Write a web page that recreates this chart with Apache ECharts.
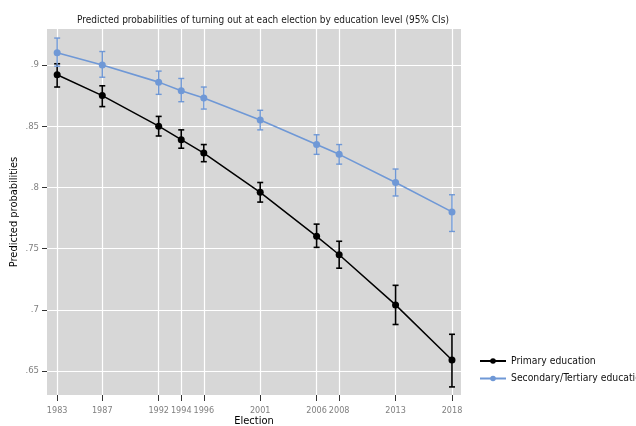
<!DOCTYPE html>
<html><head><meta charset="utf-8">
<script src="https://cdn.jsdelivr.net/npm/echarts@6/dist/echarts.min.js"></script>
<style>html,body{margin:0;padding:0;background:#fff}#c{width:636px;height:426px}</style>
</head><body><div id="c"></div>
<script>
const years = [1983,1987,1992,1994,1996,2001,2006,2008,2013,2018];
const yTicks = [0.65,0.70,0.75,0.80,0.85,0.90];
const yTickLabels = ['.65','.7','.75','.8','.85','.9'];
const primary   = [0.892,0.875,0.850,0.839,0.828,0.796,0.760,0.745,0.704,0.659];
const primaryLo = [0.882,0.866,0.842,0.832,0.821,0.788,0.751,0.734,0.688,0.637];
const primaryHi = [0.901,0.883,0.858,0.847,0.835,0.804,0.770,0.756,0.720,0.680];
const secondary   = [0.910,0.900,0.886,0.879,0.873,0.855,0.835,0.827,0.804,0.780];
const secondaryLo = [0.899,0.890,0.876,0.870,0.864,0.847,0.827,0.819,0.793,0.764];
const secondaryHi = [0.922,0.911,0.895,0.889,0.882,0.863,0.843,0.835,0.815,0.794];
const names = ['Primary education','Secondary/Tertiary education'];

const FONT = '"DejaVu Sans Condensed","Liberation Sans",sans-serif';
const BLACK = '#000000', BLUE = '#6f98d6';

function errSeries(lo, hi, color, width){
  return {
    type:'custom', silent:true, z:3,
    data: years.map((y,i)=>[y, lo[i], hi[i]]),
    renderItem:function(params, api){
      const x = api.value(0);
      const a = api.coord([x, api.value(1)]);
      const b = api.coord([x, api.value(2)]);
      const w = 3;
      const st = {stroke:color, lineWidth:width};
      return {type:'group', children:[
        {type:'line', shape:{x1:a[0],y1:a[1],x2:b[0],y2:b[1]}, style:st},
        {type:'line', shape:{x1:a[0]-w,y1:a[1],x2:a[0]+w,y2:a[1]}, style:st},
        {type:'line', shape:{x1:b[0]-w,y1:b[1],x2:b[0]+w,y2:b[1]}, style:st}
      ]};
    }
  };
}

const chart = echarts.init(document.getElementById('c'), null, {renderer:'canvas'});
chart.setOption({
  animation:false,
  backgroundColor:'#ffffff',
  title:{
    text:'Predicted probabilities of turning out at each election by education level (95% CIs)',
    left:258, top:10, textAlign:'center',
    textStyle:{fontFamily:FONT, fontSize:10, fontWeight:'normal', color:'#1a1a1a'}
  },
  legend:{
    orient:'vertical', left:474, top:351, itemGap:7.5, itemWidth:26, itemHeight:7,
    data:names,
    textStyle:{fontFamily:FONT, fontSize:10.3, color:'#111'}
  },
  grid:{left:47, right:175, top:29, bottom:31, show:true, backgroundColor:'#d7d7d7', borderWidth:0,
    containLabel:false, outerBoundsMode:'none'},
  xAxis:{
    type:'value', min:1982.1, max:2018.8,
    name:'Election', nameLocation:'middle', nameGap:21, nameMoveOverlap:false,
    nameTextStyle:{fontFamily:FONT, fontSize:11, color:'#000'},
    axisLine:{show:false},
    axisTick:{show:true, customValues:years, length:6, lineStyle:{color:'#333'}},
    axisLabel:{customValues:years, fontFamily:FONT, fontSize:9, color:'#7f7f7f', margin:11,
      formatter:function(v){ return String(Math.round(v)); }},
    splitLine:{show:true, lineStyle:{color:'#ffffff', width:1.2}}
  },
  yAxis:{
    type:'value', min:0.6304, max:0.9294,
    name:'Predicted probabilities', nameLocation:'middle', nameGap:27, nameRotate:90, nameMoveOverlap:false,
    nameTextStyle:{fontFamily:FONT, fontSize:11, color:'#000'},
    axisLine:{show:false},
    axisTick:{show:true, customValues:yTicks, length:5, lineStyle:{color:'#333'}},
    axisLabel:{customValues:yTicks, fontFamily:FONT, fontSize:9.5, color:'#7f7f7f', margin:8,
      formatter:function(v){ const i = yTicks.findIndex(t=>Math.abs(t-v)<1e-6); return i>=0?yTickLabels[i]:''; }},
    splitLine:{show:true, lineStyle:{color:'#ffffff', width:1.2}}
  },
  series:[
    errSeries(primaryLo, primaryHi, BLACK, 1.6),
    errSeries(secondaryLo, secondaryHi, BLUE, 1.4),
    {name:names[0], type:'line', data:years.map((y,i)=>[y,primary[i]]), symbol:'circle', symbolSize:7,
      itemStyle:{color:BLACK}, lineStyle:{color:BLACK, width:1.5}, z:4},
    {name:names[1], type:'line', data:years.map((y,i)=>[y,secondary[i]]), symbol:'circle', symbolSize:7,
      itemStyle:{color:BLUE}, lineStyle:{color:BLUE, width:1.6}, z:4}
  ]
});
</script></body></html>
